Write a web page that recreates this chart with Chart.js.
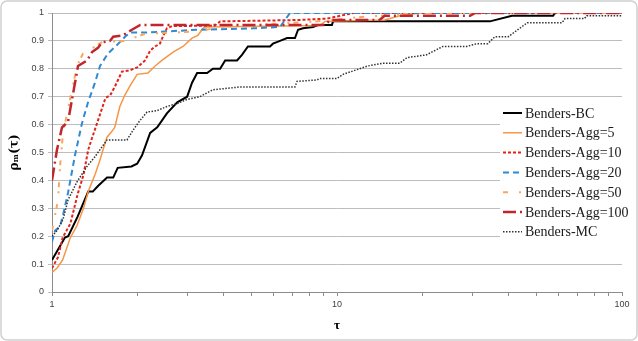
<!DOCTYPE html>
<html>
<head>
<meta charset="utf-8">
<script src="https://cdn.jsdelivr.net/npm/chart.js@4.4.1/dist/chart.umd.min.js"></script>
<style>
  html, body { margin: 0; padding: 0; background: #fff; }
  #wrap { width: 638px; height: 341px; position: relative; }
</style>
</head>
<body>
<div id="wrap"><canvas id="profileChart" width="638" height="341"></canvas></div>
<script>
// performance profile data (tau, rho)
const seriesNames = ['Benders-BC', 'Benders-Agg=5', 'Benders-Agg=10', 'Benders-Agg=20', 'Benders-Agg=50', 'Benders-Agg=100', 'Benders-MC'];

const bcTau = [1, 1.11, 1.14, 1.23, 1.34, 1.39, 1.45, 1.56, 1.64, 1.70, 1.90, 1.99, 2.07, 2.21, 2.34, 2.53, 2.75, 2.98, 3.10, 3.23, 3.50, 3.67, 3.89, 4.05, 4.46, 4.64, 4.87, 5.82, 5.96, 6.31, 6.68, 7.12, 7.30, 7.60, 8.24, 8.58, 9.60, 9.68, 34.4, 41.1, 57.3, 58.2, 100];
const bcRho = [0.115, 0.195, 0.20, 0.27, 0.36, 0.36, 0.38, 0.41, 0.41, 0.445, 0.45, 0.46, 0.49, 0.57, 0.59, 0.64, 0.68, 0.70, 0.75, 0.785, 0.785, 0.80, 0.80, 0.83, 0.83, 0.85, 0.88, 0.88, 0.89, 0.90, 0.91, 0.91, 0.94, 0.945, 0.95, 0.957, 0.957, 0.97, 0.97, 0.99, 0.99, 1.0, 1.0];

const agg5Tau = [1, 1.04, 1.09, 1.16, 1.22, 1.29, 1.34, 1.42, 1.47, 1.51, 1.56, 1.62, 1.66, 1.73, 1.80, 1.88, 1.99, 2.17, 2.30, 2.43, 2.66, 2.88, 3.10, 3.25, 3.39, 3.44, 8.71, 9.08, 14.7, 16.6, 19.6, 100];
const agg5Rho = [0.07, 0.085, 0.115, 0.195, 0.235, 0.30, 0.36, 0.425, 0.47, 0.51, 0.555, 0.575, 0.59, 0.665, 0.705, 0.74, 0.78, 0.785, 0.81, 0.83, 0.86, 0.88, 0.91, 0.92, 0.945, 0.95, 0.955, 0.97, 0.975, 0.99, 1.0, 1.0];

const agg10Tau = [1, 1.05, 1.09, 1.16, 1.23, 1.29, 1.34, 1.38, 1.45, 1.54, 1.60, 1.66, 1.76, 1.88, 1.99, 2.12, 2.21, 2.30, 2.39, 2.45, 2.53, 2.64, 3.73, 3.89, 7.42, 9.22, 11.4, 100];
const agg10Rho = [0.085, 0.125, 0.195, 0.245, 0.35, 0.42, 0.51, 0.55, 0.615, 0.695, 0.705, 0.735, 0.79, 0.795, 0.805, 0.83, 0.865, 0.88, 0.89, 0.915, 0.945, 0.953, 0.955, 0.97, 0.975, 0.98, 1.0, 1.0];

const agg20Tau = [1, 1.025, 1.067, 1.093, 1.138, 1.204, 1.274, 1.338, 1.415, 1.474, 1.572, 1.69, 1.804, 1.878, 2.12, 3.25, 5.07, 6.31, 6.84, 100];
const agg20Rho = [0.18, 0.22, 0.235, 0.275, 0.355, 0.49, 0.605, 0.68, 0.75, 0.81, 0.855, 0.885, 0.915, 0.93, 0.93, 0.94, 0.945, 0.95, 1.0, 1.0];

const agg50Tau = [1, 1.05, 1.067, 1.093, 1.157, 1.224, 1.285, 1.415, 1.497, 1.80, 2.12, 3.30, 3.89, 8.5, 12.0, 19.5, 100];
const agg50Rho = [0.22, 0.33, 0.45, 0.57, 0.69, 0.81, 0.855, 0.88, 0.895, 0.90, 0.925, 0.935, 0.95, 0.97, 0.985, 1.0, 1.0];

const agg100Tau = [1, 1.041, 1.084, 1.138, 1.185, 1.234, 1.327, 1.382, 1.45, 1.497, 1.597, 1.64, 1.775, 1.907, 2.04, 9.08, 9.45, 14.1, 14.7, 29.3, 30.5, 100];
const agg100Rho = [0.40, 0.51, 0.59, 0.61, 0.71, 0.81, 0.83, 0.86, 0.875, 0.895, 0.90, 0.915, 0.92, 0.94, 0.957, 0.957, 0.975, 0.975, 0.99, 0.99, 1.0, 1.0];

const mcTau = [1, 1.041, 1.093, 1.138, 1.224, 1.327, 1.415, 1.497, 1.56, 1.833, 1.925, 2.036, 2.155, 2.336, 2.531, 2.743, 2.973, 3.30, 3.67, 4.11, 4.57, 7.12, 7.24, 8.5, 8.7, 9.99, 10.5, 12.8, 14.5, 16.6, 17.6, 20.6, 23.5, 28.5, 30.9, 33.8, 35.8, 39.9, 46.5, 61.6, 63.1, 73.8, 75.2, 100];
const mcRho = [0.20, 0.22, 0.26, 0.33, 0.395, 0.45, 0.485, 0.52, 0.545, 0.545, 0.58, 0.615, 0.645, 0.65, 0.665, 0.675, 0.69, 0.70, 0.725, 0.73, 0.735, 0.735, 0.755, 0.76, 0.765, 0.765, 0.78, 0.81, 0.82, 0.82, 0.84, 0.85, 0.88, 0.88, 0.89, 0.89, 0.915, 0.915, 0.965, 0.965, 0.98, 0.98, 0.99, 0.99];

const xTickValues = [1, 2, 3, 4, 5, 6, 7, 8, 9, 10, 20, 30, 40, 50, 60, 70, 80, 90, 100];
const xTickLabels = [1, 10, 100];
const yTickValues = [0, 0.1, 0.2, 0.3, 0.4, 0.5, 0.6, 0.7, 0.8, 0.9, 1];

const pairs = (xs, ys) => xs.map((x, i) => ({ x: x, y: ys[i] }));

const styles = [
    { color: '#000000', width: 2, dash: [] },
    { color: '#F79646', width: 1.5, dash: [] },
    { color: '#E2231A', width: 2, dash: [3, 2] },
    { color: '#2F8AD3', width: 2, dash: [6, 4] },
    { color: '#F8A65E', width: 2, dash: [5, 11, 2, 4] },
    { color: '#C0262B', width: 2.5, dash: [13, 4, 2, 4] },
    { color: '#333333', width: 1.5, dash: [1.5, 1.5] }
];

const allData = [
    pairs(bcTau, bcRho), pairs(agg5Tau, agg5Rho), pairs(agg10Tau, agg10Rho),
    pairs(agg20Tau, agg20Rho), pairs(agg50Tau, agg50Rho), pairs(agg100Tau, agg100Rho),
    pairs(mcTau, mcRho)
];

// outer frame like the spreadsheet chart
const framePlugin = {
    id: 'frame',
    beforeDraw(chart) {
        const ctx = chart.ctx;
        ctx.save();
        ctx.fillStyle = '#fff';
        ctx.fillRect(0, 0, chart.width, chart.height);
        ctx.strokeStyle = '#D0D0D0';
        ctx.lineWidth = 1.5;
        ctx.beginPath();
        ctx.roundRect(1, 1, chart.width - 2, chart.height - 2, 6);
        ctx.stroke();
        ctx.restore();
    }
};

// legend box sitting over the plot, right side
const legendPlugin = {
    id: 'boxLegend',
    afterDraw(chart) {
        const ctx = chart.ctx;
        ctx.save();
        ctx.fillStyle = '#fff';
        ctx.fillRect(500, 101, 136, 142);
        ctx.font = '14px "Liberation Serif"';
        ctx.textBaseline = 'middle';
        chart.data.datasets.forEach((ds, i) => {
            const y = 113 + i * 19.8;
            ctx.strokeStyle = ds.borderColor;
            ctx.lineWidth = ds.borderWidth;
            ctx.setLineDash(ds.borderDash);
            ctx.beginPath();
            ctx.moveTo(503, y);
            ctx.lineTo(522, y);
            ctx.stroke();
            ctx.setLineDash([]);
            ctx.fillStyle = '#1a1a1a';
            ctx.fillText(ds.label, 525, y + 1);
        });
        ctx.restore();
    }
};

new Chart(document.getElementById('profileChart'), {
    type: 'line',
    data: {
        datasets: seriesNames.map((name, i) => ({
            label: name,
            data: allData[i],
            borderColor: styles[i].color,
            borderWidth: styles[i].width,
            borderDash: styles[i].dash,
            pointRadius: 0,
            tension: 0,
            fill: false,
            order: seriesNames.length - i
        }))
    },
    options: {
        responsive: false,
        animation: false,
        devicePixelRatio: 1,
        layout: { padding: { top: 13, right: 16, left: 0, bottom: 0 } },
        plugins: { legend: { display: false }, tooltip: { enabled: false } },
        scales: {
            x: {
                type: 'logarithmic',
                min: 1,
                max: 100,
                afterBuildTicks: s => { s.ticks = xTickValues.map(v => ({ value: v })); },
                afterFit: s => { s.height = 49; },
                ticks: {
                    autoSkip: false,
                    maxRotation: 0,
                    padding: 3,
                    color: '#404040',
                    font: { family: 'Liberation Sans', size: 9 },
                    callback: v => xTickLabels.includes(v) ? String(v) : ''
                },
                grid: { drawOnChartArea: false, drawTicks: true, tickLength: 4, color: '#8C8C8C' },
                border: { color: '#8C8C8C', width: 1 },
                title: {
                    display: true,
                    text: 'τ',
                    color: '#000',
                    font: { family: 'Liberation Serif', size: 13, weight: 'bold' },
                    padding: { top: 2, bottom: 8 }
                }
            },
            y: {
                min: 0,
                max: 1,
                afterBuildTicks: s => { s.ticks = yTickValues.map(v => ({ value: v })); },
                afterFit: s => { s.width = 52; },
                ticks: {
                    padding: 4,
                    color: '#404040',
                    font: { family: 'Liberation Sans', size: 9 },
                    callback: v => String(Math.round(v * 10) / 10)
                },
                grid: { color: '#BDBDBD', tickLength: 4, lineWidth: 1 },
                border: { color: '#8C8C8C', width: 1 },
                title: {
                    display: true,
                    text: 'ρₘ(τ)',
                    color: '#000',
                    font: { family: 'DejaVu Serif', size: 12, weight: 'bold' },
                    padding: { top: 8, bottom: 0 }
                }
            }
        }
    },
    plugins: [framePlugin, legendPlugin]
});
</script>
</body>
</html>
